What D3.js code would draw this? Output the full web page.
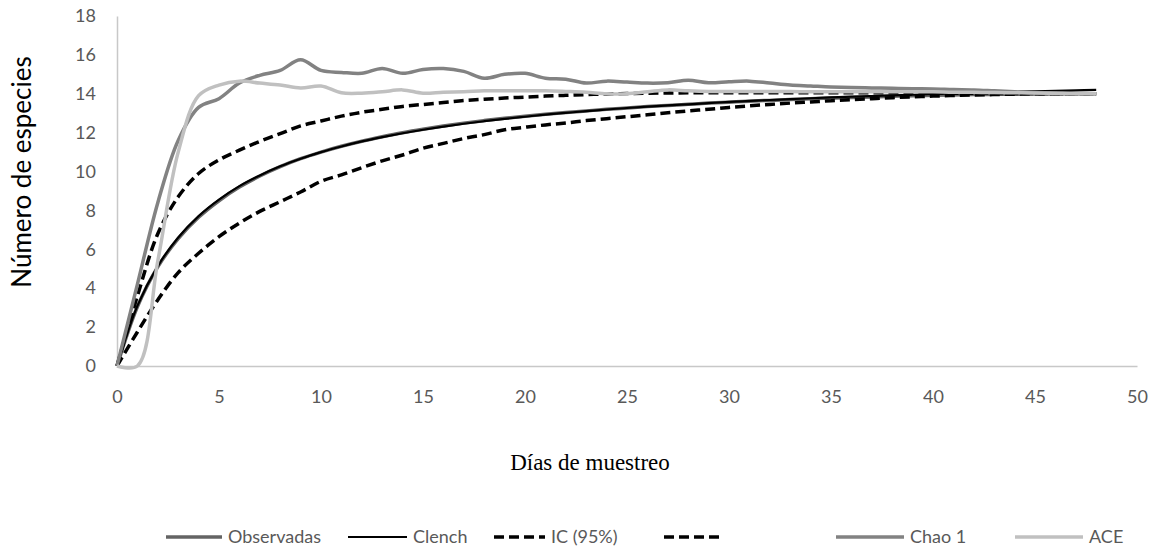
<!DOCTYPE html>
<html>
<head>
<meta charset="utf-8">
<script src="https://cdn.jsdelivr.net/npm/d3@7"></script>
<style>
  body { margin: 0; background: #fff; }
</style>
</head>
<body>
<div id="chart"></div>
<script>
// days 0..48
let dias = d3.range(0, 49);

let observadas = [0, 3.05, 5.1, 6.55, 7.65, 8.5, 9.2, 9.77, 10.25, 10.66, 11.0, 11.3, 11.56, 11.79, 12.0, 12.18,
  12.34, 12.49, 12.62, 12.74, 12.85, 12.95, 13.04, 13.12, 13.2, 13.27, 13.34, 13.4, 13.46, 13.52, 13.57, 13.62,
  13.66, 13.7, 13.74, 13.78, 13.81, 13.84, 13.87, 13.9, 13.92, 13.94, 13.96, 13.97, 13.98, 13.99, 14.0, 14.0, 14.0];

let clench = [0, 3.09, 5.14, 6.61, 7.71, 8.56, 9.25, 9.8, 10.27, 10.66, 11.0, 11.29, 11.55, 11.77, 11.97, 12.15,
  12.31, 12.46, 12.59, 12.71, 12.82, 12.93, 13.02, 13.11, 13.19, 13.27, 13.34, 13.4, 13.46, 13.52, 13.58, 13.63,
  13.68, 13.72, 13.77, 13.81, 13.85, 13.88, 13.92, 13.95, 13.99, 14.02, 14.05, 14.07, 14.1, 14.13, 14.15, 14.18, 14.2];

let icSup = [0, 3.6, 6.8, 8.7, 9.9, 10.6, 11.1, 11.55, 11.95, 12.35, 12.6, 12.85, 13.05, 13.2, 13.35, 13.45,
  13.55, 13.65, 13.72, 13.78, 13.83, 13.88, 13.92, 13.96, 13.99, 14.01, 14.03, 14.04, 14.05, 14.05, 14.05, 14.05,
  14.05, 14.05, 14.05, 14.05, 14.05, 14.05, 14.05, 14.04, 14.04, 14.03, 14.03, 14.02, 14.02, 14.01, 14.01, 14.0, 14.0];

let icInf = [0, 1.75, 3.4, 4.8, 5.8, 6.65, 7.35, 7.95, 8.45, 8.95, 9.5, 9.83, 10.2, 10.55, 10.85, 11.2,
  11.45, 11.7, 11.9, 12.15, 12.28, 12.4, 12.5, 12.62, 12.72, 12.82, 12.92, 13.02, 13.12, 13.2, 13.3, 13.38,
  13.45, 13.52, 13.58, 13.64, 13.7, 13.75, 13.8, 13.84, 13.88, 13.91, 13.94, 13.96, 13.98, 14.0, 14.0, 14.0, 14.0];

let chao1 = [0, 4.2, 8.4, 11.6, 13.3, 13.75, 14.55, 14.95, 15.2, 15.75, 15.2, 15.1, 15.05, 15.3, 15.05, 15.25,
  15.3, 15.15, 14.8, 15.0, 15.05, 14.8, 14.75, 14.55, 14.65, 14.6, 14.55, 14.57, 14.7, 14.57, 14.62, 14.65,
  14.55, 14.45, 14.4, 14.35, 14.32, 14.3, 14.28, 14.26, 14.25, 14.22, 14.2, 14.15, 14.1, 14.05, 14.05, 14.02, 14.0];

let ace = [0, 0, 5.4, 11.0, 13.9, 14.45, 14.65, 14.55, 14.45, 14.3, 14.4, 14.05, 14.03, 14.1, 14.2, 14.03,
  14.08, 14.1, 14.15, 14.15, 14.15, 14.15, 14.12, 14.08, 14.0, 14.0, 14.1, 14.2, 14.15, 14.12, 14.12, 14.12,
  14.12, 14.12, 14.1, 14.1, 14.1, 14.1, 14.1, 14.1, 14.1, 14.08, 14.08, 14.06, 14.05, 14.04, 14.02, 14.0, 14.0];

let xTicks = [0, 5, 10, 15, 20, 25, 30, 35, 40, 45, 50];
let yTicks = [0, 2, 4, 6, 8, 10, 12, 14, 16, 18];

let series = [
  { name: "Observadas", values: observadas, color: "#646464", width: 3.5, dash: null },
  { name: "Clench", values: clench, color: "#000000", width: 2.2, dash: null },
  { name: "IC (95%)", values: icSup, color: "#000000", width: 3.5, dash: "10,5" },
  { name: "", values: icInf, color: "#000000", width: 3.5, dash: "10,5" },
  { name: "Chao 1", values: chao1, color: "#828282", width: 3.5, dash: null },
  { name: "ACE", values: ace, color: "#c0c0c0", width: 3.5, dash: null }
];

let width = 1162;
let height = 550;

let svg = d3.select('#chart')
  .append('svg')
  .attr('width', width)
  .attr('height', height);

let x = d3.scaleLinear().domain([0, 50]).range([117, 1137]);
let y = d3.scaleLinear().domain([0, 18]).range([366, 16]);

// axes
let xAxis = d3.axisBottom(x).tickValues(xTicks).tickSize(0).tickPadding(24);
let gx = svg.append('g')
  .attr('transform', 'translate(0,366)')
  .call(xAxis);

let yAxis = d3.axisLeft(y).tickValues(yTicks).tickSize(0).tickPadding(21);
let gy = svg.append('g')
  .attr('transform', 'translate(117,0)')
  .call(yAxis);

[gx, gy].forEach(function (g) {
  g.select('.domain').attr('stroke', '#c8c8c8').attr('stroke-width', 1.5);
  g.selectAll('text')
    .style('font-family', 'Lato, sans-serif')
    .style('font-size', '18px')
    .attr('fill', '#595959');
});

// lines
let line = d3.line()
  .x(function (d, i) { return x(dias[i]); })
  .y(function (d) { return y(d); })
  .curve(d3.curveCatmullRom.alpha(0.5));

series.forEach(function (s) {
  svg.append('path')
    .attr('d', line(s.values))
    .attr('fill', 'none')
    .attr('stroke', s.color)
    .attr('stroke-width', s.width)
    .attr('stroke-dasharray', s.dash)
    .attr('stroke-linejoin', 'round');
});

// titles
svg.append('text')
  .attr('transform', 'translate(31,172) rotate(-90)')
  .attr('text-anchor', 'middle')
  .style('font-family', 'Lato, sans-serif')
  .style('font-size', '26px')
  .attr('fill', '#000')
  .text('Número de especies');

svg.append('text')
  .attr('x', 590)
  .attr('y', 470)
  .attr('text-anchor', 'middle')
  .style('font-family', '"Liberation Serif", "Times New Roman", serif')
  .style('font-size', '23px')
  .attr('fill', '#000')
  .text('Días de muestreo');

// legend
let legendX = [166, 348, 494, 664, 836, 1015];
let legendLen = [56, 59, 51, 58, 68, 68];
let legendY = 537;

series.forEach(function (s, i) {
  let g = svg.append('g');
  g.append('line')
    .attr('x1', legendX[i])
    .attr('x2', legendX[i] + legendLen[i])
    .attr('y1', legendY)
    .attr('y2', legendY)
    .attr('stroke', s.color)
    .attr('stroke-width', s.width)
    .attr('stroke-dasharray', s.dash);
  g.append('text')
    .attr('x', legendX[i] + legendLen[i] + 6)
    .attr('y', legendY + 6)
    .style('font-family', 'Lato, sans-serif')
    .style('font-size', '18px')
    .attr('fill', '#595959')
    .text(s.name);
});
</script>
</body>
</html>
